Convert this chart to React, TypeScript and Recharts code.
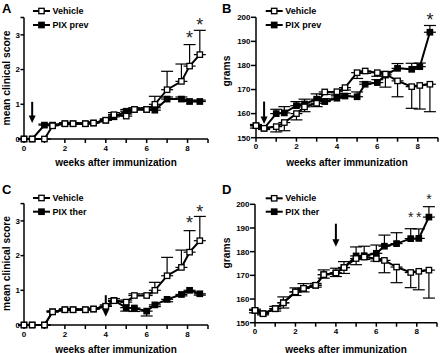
import React from "react";
import { LineChart, Line, XAxis, YAxis, ErrorBar, ReferenceLine, ReferenceDot } from "recharts";

const FONT = '"Liberation Sans", Arial, Helvetica, sans-serif';

// weeks after immunization (shared by all four panels)
const weeks = [0, 0.4, 1, 1.4, 2, 2.4, 3, 3.4, 4, 4.4, 5, 5.4, 6, 6.4, 7, 7.7, 8.1, 8.6];
const weekTicks = [0, 1, 2, 3, 4, 5, 6, 7, 8, 9];

// clinical score (A, C)
const scoreTicks = [0, 1, 2, 3, 3.5];
const scoreVehicle = [0, 0, 0, 0.38, 0.44, 0.44, 0.44, 0.46, 0.54, 0.7, 0.66, 0.85, 0.85, 1.0, 1.42, 1.66, 2.1, 2.43];
const scoreVehicleSem = [0, 0, 0, 0.03, 0.03, 0.03, 0.03, 0.03, 0.04, 0.06, 0.06, 0.05, 0.05, 0.23, 0.53, 0.5, 0.62, 0.7];
const scorePixPrev = [0, 0, 0.4, 0.4, 0.44, 0.44, 0.44, 0.46, 0.54, 0.64, 0.8, 0.85, 0.85, 0.83, 1.15, 1.15, 1.08, 1.08];
const scorePixPrevSem = [0, 0, 0.03, 0.03, 0.03, 0.03, 0.03, 0.03, 0.03, 0.05, 0.05, 0.04, 0.05, 0.07, 0.06, 0.06, 0.04, 0.04];
const scorePixTher = [0, 0, 0, 0.38, 0.44, 0.44, 0.44, 0.46, 0.54, 0.71, 0.5, 0.49, 0.4, 0.58, 0.74, 0.88, 1.0, 0.9];
const scorePixTherSem = [0, 0, 0, 0, 0, 0, 0, 0, 0, 0.03, 0.1, 0.1, 0.14, 0.05, 0.07, 0.04, 0.03, 0.04];

// body weight in grams (B, D)
const gramTicks = [150, 160, 170, 180, 190, 200];
const weightVehicleB = [155, 153.9, 154.6, 156.3, 160, 162.8, 164.3, 169, 169.1, 170.8, 177, 177.7, 177, 176.4, 173.6, 171.2, 171.7, 172.2];
const weightVehicleBSem = [1, 0.5, 2.2, 3.4, 2.6, 2, 1.4, 1, 1, 1, 2.4, 1, 1.5, 5.4, 6.6, 9, 9.8, 11.4];
const weightPixPrev = [155, 153.9, 160, 160.3, 163.3, 164, 166, 165, 166.4, 167.3, 167, 172.2, 172.9, 176, 178.8, 178.4, 179.5, 193.8];
const weightPixPrevSem = [0.5, 0.5, 1.8, 2.6, 1.7, 2, 2.2, 1.2, 1, 1, 2, 1, 1.2, 1.5, 2, 2.5, 1.5, 2.8];
const weightVehicleD = [155.2, 153.8, 155.9, 158.4, 163, 164.5, 165.8, 170.3, 171, 173.3, 177.1, 177.7, 177, 176.3, 173.5, 171.2, 171.7, 172.2];
const weightVehicleDSem = [1, 0.5, 1, 2.2, 1.5, 1.5, 0.8, 1.5, 1.5, 2.5, 2.6, 1, 1, 5.2, 6.6, 6.4, 7.8, 11.8];
const weightPixTher = [155.2, 153.8, 155.9, 158.4, 163, 164.5, 165.8, 170.3, 171, 173.3, 178.2, 178.3, 179.3, 182.3, 183.4, 185.5, 185.6, 194.6];
const weightPixTherSem = [0.5, 0.5, 1, 2.5, 1.7, 2, 0.8, 2, 2, 2.5, 3.8, 4, 3.5, 4.7, 4.6, 4.2, 4, 4.4];

// treatment start arrows and significance marks
const arrowA = { x: 0.4, from: 1.07, to: 0.46 };
const arrowB = { x: 0.4, from: 165, to: 155.7 };
const arrowC = { x: 4, from: 0.86, to: 0.24 };
const arrowD = { x: 4, from: 191.8, to: 182.1 };
const starsA = [{ x: 8.1, y: 3.04 }, { x: 8.6, y: 3.42 }];
const starsB = [{ x: 8.6, y: 200.5 }];
const starsC = [{ x: 8.1, y: 3.05 }, { x: 8.6, y: 3.38 }];
const starsD = [{ x: 7.7, y: 195.8 }, { x: 8.1, y: 195.8 }, { x: 8.6, y: 203.6 }];

// up = bar above the mean only, down = below only
const sem = (v: number, dir: string) => (dir === "up" ? [0, v] : [v, 0]);

const buildRows = (veh: number[], vehSem: number[], vehDir: string, pix: number[], pixSem: number[], pixDir: string) =>
  weeks.map((w, i) => ({
    week: w,
    veh: veh[i],
    vehErr: sem(vehSem[i], vehDir),
    pix: pix[i],
    pixErr: sem(pixSem[i], pixDir),
  }));

const rowsA = buildRows(scoreVehicle, scoreVehicleSem, "up", scorePixPrev, scorePixPrevSem, "up");
const rowsB = buildRows(weightVehicleB, weightVehicleBSem, "down", weightPixPrev, weightPixPrevSem, "up");
const rowsC = buildRows(scoreVehicle, scoreVehicleSem, "up", scorePixTher, scorePixTherSem, "down");
const rowsD = buildRows(weightVehicleD, weightVehicleDSem, "down", weightPixTher, weightPixTherSem, "up");

const squareDot = (filled: boolean) => (p: any) => (
  <rect
    key={`sq-${p.index}`}
    x={p.cx - 2.7}
    y={p.cy - 2.7}
    width={5.4}
    height={5.4}
    fill={filled ? "#000" : "#fff"}
    stroke="#000"
    strokeWidth={1.3}
  />
);

const arrowShape = (p: any) => {
  const { x1, y1, x2, y2 } = p;
  const head = 7.5;
  return (
    <g>
      <line x1={x1} y1={y1} x2={x2} y2={y2 - head + 1} stroke="#000" strokeWidth={2} />
      <polygon points={`${x2 - 3.5},${y2 - head} ${x2 + 3.5},${y2 - head} ${x2},${y2}`} fill="#000" />
    </g>
  );
};

const starShape = (size: number) => (p: any) => (
  <text x={p.cx} y={p.cy + size * 0.57} textAnchor="middle" fontSize={size} fontFamily={FONT} fill="#222">
    *
  </text>
);

const axisStyle = { stroke: "#000", strokeWidth: 1.5 };
const tickStyle = { fill: "#000", fontSize: 8, fontWeight: "bold", fontFamily: FONT };

function Panel(props: any) {
  const {
    letter, left, top, width, height, plot, rows, yDomain, yTicks, yTickSize, yLabel, yLabelY,
    xLabelOffset, letterY, legendX, legendY, pixName, arrow, stars, starSize,
  } = props;
  const lineEnd = legendX + 17;
  return (
    <div style={{ position: "absolute", left, top, width, height }}>
      <LineChart
        width={width}
        height={height}
        data={rows}
        margin={{ top: plot.t, right: width - plot.r, bottom: 0, left: 0 }}
      >
        <XAxis
          type="number"
          dataKey="week"
          domain={[0, 9]}
          ticks={weekTicks}
          interval={0}
          tickFormatter={(v: number) => (v % 2 === 0 ? String(v) : "")}
          height={height - plot.b}
          axisLine={axisStyle}
          tickLine={axisStyle}
          tickSize={4}
          tickMargin={2}
          tick={tickStyle}
          label={{
            value: "weeks after immunization",
            position: "insideBottom",
            offset: xLabelOffset,
            fill: "#000",
            fontSize: 10,
            fontWeight: "bold",
            fontFamily: FONT,
          }}
        />
        <YAxis
          type="number"
          domain={yDomain}
          ticks={yTicks}
          interval={0}
          width={plot.l}
          tickFormatter={(v: number) => (v === 3.5 ? "" : String(v))}
          axisLine={axisStyle}
          tickLine={axisStyle}
          tickSize={yTickSize}
          tickMargin={0.5}
          tick={tickStyle}
        />
        <ReferenceLine
          segment={[{ x: arrow.x, y: arrow.from }, { x: arrow.x, y: arrow.to }]}
          ifOverflow="visible"
          shape={arrowShape}
        />
        <Line
          dataKey="pix"
          stroke="#000"
          strokeWidth={2}
          dot={squareDot(true)}
          activeDot={false}
          isAnimationActive={false}
        >
          <ErrorBar dataKey="pixErr" direction="y" width={6} stroke="#000" strokeWidth={1.2} />
        </Line>
        <Line
          dataKey="veh"
          stroke="#000"
          strokeWidth={2}
          dot={squareDot(false)}
          activeDot={false}
          isAnimationActive={false}
        >
          <ErrorBar dataKey="vehErr" direction="y" width={6} stroke="#000" strokeWidth={1.2} />
        </Line>
        {stars.map((s: any, i: number) => (
          <ReferenceDot key={i} x={s.x} y={s.y} r={0} ifOverflow="visible" shape={starShape(starSize)} />
        ))}
      </LineChart>
      <svg
        width={width}
        height={height}
        style={{ position: "absolute", left: 0, top: 0, pointerEvents: "none" }}
        fontFamily={FONT}
        fontWeight="bold"
      >
        <text x={2} y={letterY} fontSize={13}>{letter}</text>
        <text
          x={6.5}
          y={yLabelY}
          fontSize={10.3}
          textAnchor="middle"
          dominantBaseline="central"
          transform={`rotate(-90 6.5 ${yLabelY})`}
        >
          {yLabel}
        </text>
        {[{ name: "Vehicle", filled: false, y: legendY[0] }, { name: pixName, filled: true, y: legendY[1] }].map((it) => (
          <g key={it.name}>
            <line x1={legendX} y1={it.y} x2={lineEnd} y2={it.y} stroke="#000" strokeWidth={2} />
            <rect
              x={legendX + 8.5 - 2.7}
              y={it.y - 2.7}
              width={5.4}
              height={5.4}
              fill={it.filled ? "#000" : "#fff"}
              stroke="#000"
              strokeWidth={1.3}
            />
            <text x={lineEnd + 2.5} y={it.y} fontSize={9} dominantBaseline="central">{it.name}</text>
          </g>
        ))}
      </svg>
    </div>
  );
}

export default function App() {
  return (
    <div style={{ position: "absolute", left: 0, top: 0, width: 440, height: 353, background: "#fff", overflow: "hidden" }}>
      <Panel
        letter="A" left={0} top={0} width={220} height={176}
        plot={{ l: 24, t: 17.5, r: 208, b: 139 }}
        rows={rowsA} yDomain={[0, 3.5]} yTicks={scoreTicks} yTickSize={3.5}
        yLabel="mean clinical score" yLabelY={78} xLabelOffset={10.5} letterY={13.3}
        legendX={33} legendY={[11, 25]} pixName="PIX prev"
        arrow={arrowA} stars={starsA} starSize={18}
      />
      <Panel
        letter="B" left={220} top={0} width={220} height={176}
        plot={{ l: 36, t: 17.3, r: 218, b: 137.7 }}
        rows={rowsB} yDomain={[150, 200]} yTicks={gramTicks} yTickSize={5}
        yLabel="grams" yLabelY={71} xLabelOffset={10} letterY={12.7}
        legendX={45.7} legendY={[11, 25]} pixName="PIX prev"
        arrow={arrowB} stars={starsB} starSize={18}
      />
      <Panel
        letter="C" left={0} top={176} width={220} height={177}
        plot={{ l: 24, t: 27.6, r: 208, b: 149 }}
        rows={rowsC} yDomain={[0, 3.5]} yTicks={scoreTicks} yTickSize={3.5}
        yLabel="mean clinical score" yLabelY={87.5} xLabelOffset={0.5} letterY={18.3}
        legendX={33} legendY={[22, 35.7]} pixName="PIX ther"
        arrow={arrowC} stars={starsC} starSize={18}
      />
      <Panel
        letter="D" left={220} top={176} width={220} height={177}
        plot={{ l: 35, t: 28.3, r: 217, b: 146.7 }}
        rows={rowsD} yDomain={[150, 200]} yTicks={gramTicks} yTickSize={5}
        yLabel="grams" yLabelY={77} xLabelOffset={0.5} letterY={18.3}
        legendX={45.7} legendY={[22.3, 35.7]} pixName="PIX ther"
        arrow={arrowD} stars={starsD} starSize={14}
      />
    </div>
  );
}
